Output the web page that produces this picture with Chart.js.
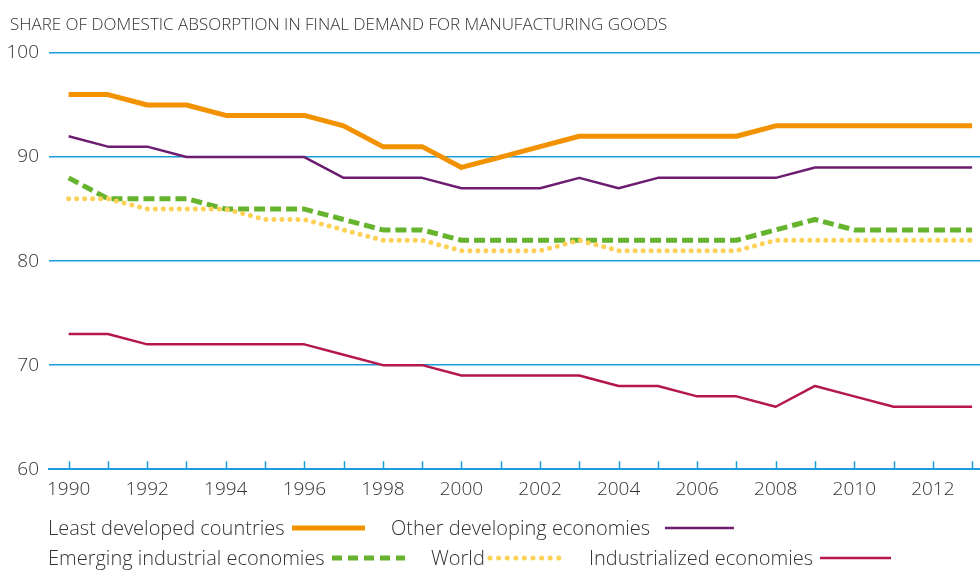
<!DOCTYPE html>
<html>
<head>
<meta charset="utf-8">
<script src="https://cdn.jsdelivr.net/npm/chart.js@4"></script>
<style>
  html, body { margin: 0; padding: 0; background: #fff; }
  #wrap { width: 980px; height: 570px; position: relative; }
</style>
</head>
<body>
<div id="wrap"><canvas id="chart"></canvas></div>
<script>
// data
const years = [1990, 1991, 1992, 1993, 1994, 1995, 1996, 1997, 1998, 1999, 2000, 2001,
               2002, 2003, 2004, 2005, 2006, 2007, 2008, 2009, 2010, 2011, 2012, 2013];
const leastDeveloped = [96, 96, 95, 95, 94, 94, 94, 93, 91, 91, 89, 90, 91, 92, 92, 92, 92, 92, 93, 93, 93, 93, 93, 93];
const otherDeveloping = [92, 91, 91, 90, 90, 90, 90, 88, 88, 88, 87, 87, 87, 88, 87, 88, 88, 88, 88, 89, 89, 89, 89, 89];
const emergingIndustrial = [88, 86, 86, 86, 85, 85, 85, 84, 83, 83, 82, 82, 82, 82, 82, 82, 82, 82, 83, 84, 83, 83, 83, 83];
const world = [86, 86, 85, 85, 85, 84, 84, 83, 82, 82, 81, 81, 81, 82, 81, 81, 81, 81, 82, 82, 82, 82, 82, 82];
const industrialized = [73, 73, 72, 72, 72, 72, 72, 71, 70, 70, 69, 69, 69, 69, 68, 68, 67, 67, 66, 68, 67, 66, 66, 66];
const yTicks = [60, 70, 80, 90, 100];
const titleText = 'SHARE OF DOMESTIC ABSORPTION IN FINAL DEMAND FOR MANUFACTURING GOODS';

const FONT = '"Open Sans", "Noto Sans", sans-serif';
const TEXT = '#333333';
const BLUE = '#1a9bd7';

const pts = vals => vals.map((v, i) => ({ x: years[i], y: v }));

const series = [
    { label: 'Least developed countries', data: leastDeveloped, color: '#f39200', width: 5, dash: [] },
    { label: 'Other developing economies', data: otherDeveloping, color: '#6c1d70', width: 2.5, dash: [] },
    { label: 'Emerging industrial economies', data: emergingIndustrial, color: '#66b32e', width: 5, dash: [11, 5], legendDash: [10, 6] },
    { label: 'World', data: world, color: '#fdd155', width: 5, dash: [0, 8], cap: 'round', legendDash: [0, 8.6] },
    { label: 'Industrialized economies', data: industrialized, color: '#b5174c', width: 2.5, dash: [] }
];

// legend layout: [series index, text x, baseline y, sample start, sample end]
const legendRows = [
    [0, 48, 535, 292, 365],
    [1, 391, 535, 665, 734],
    [2, 48, 565, 332, 405],
    [3, 431, 565, 490, 560],
    [4, 589, 565, 820, 891]
];

const extras = {
    id: 'extras',
    afterDraw(chart) {
        const ctx = chart.ctx;
        const x = chart.scales.x;
        const area = chart.chartArea;
        ctx.save();
        // inward ticks on the x axis
        ctx.strokeStyle = BLUE;
        ctx.lineWidth = 1.5;
        years.forEach(yr => {
            const px = Math.round(x.getPixelForValue(yr)) + 0.5;
            ctx.beginPath();
            ctx.moveTo(px, area.bottom);
            ctx.lineTo(px, area.bottom - 8);
            ctx.stroke();
        });
        // title
        ctx.fillStyle = TEXT;
        ctx.font = '300 17px ' + FONT;
        ctx.textBaseline = 'alphabetic';
        ctx.fillText(titleText, 10, 30);
        // legend
        ctx.font = '300 20px ' + FONT;
        legendRows.forEach(r => {
            const s = series[r[0]];
            ctx.fillStyle = TEXT;
            ctx.fillText(s.label, r[1], r[2]);
            const ly = r[2] - 7;
            ctx.strokeStyle = s.color;
            ctx.lineWidth = s.width;
            ctx.lineCap = s.cap || 'butt';
            ctx.setLineDash(s.legendDash || s.dash);
            ctx.beginPath();
            ctx.moveTo(r[3], ly);
            ctx.lineTo(r[4], ly);
            ctx.stroke();
            ctx.setLineDash([]);
        });
        ctx.restore();
    }
};

const ctx = document.getElementById('chart').getContext('2d');
const chart = new Chart(ctx, {
    type: 'line',
    data: {
        datasets: series.map(s => ({
            label: s.label,
            data: pts(s.data),
            borderColor: s.color,
            backgroundColor: s.color,
            borderWidth: s.width,
            borderDash: s.dash,
            borderCapStyle: s.cap || 'butt',
            borderJoinStyle: 'round',
            pointRadius: 0,
            tension: 0,
            fill: false
        })).reverse()
    },
    options: {
        responsive: true,
        maintainAspectRatio: false,
        animation: false,
        layout: { padding: { top: 53, bottom: 60, left: 0, right: 0 } },
        plugins: {
            legend: { display: false },
            title: { display: false },
            tooltip: { enabled: false }
        },
        scales: {
            x: {
                type: 'linear',
                min: 1989.5,
                max: 2013.2,
                grid: { display: false, drawTicks: false },
                border: { display: true, color: BLUE, width: 2 },
                afterBuildTicks: scale => {
                    scale.ticks = years.filter(y => y % 2 === 0 && y <= 2012).map(y => ({ value: y }));
                },
                ticks: {
                    autoSkip: false,
                    maxRotation: 0,
                    padding: 9,
                    color: TEXT,
                    font: { family: FONT, size: 19, weight: 300 },
                    callback: v => String(v)
                }
            },
            y: {
                min: 60,
                max: 100,
                afterBuildTicks: scale => {
                    scale.ticks = yTicks.map(v => ({ value: v }));
                },
                afterFit: scale => { scale.width = 49; },
                grid: { color: BLUE, lineWidth: 1.5, drawTicks: false },
                border: { display: false },
                ticks: {
                    padding: 10,
                    color: TEXT,
                    font: { family: FONT, size: 19, weight: 300 }
                }
            }
        }
    },
    plugins: [extras]
});
</script>
</body>
</html>
